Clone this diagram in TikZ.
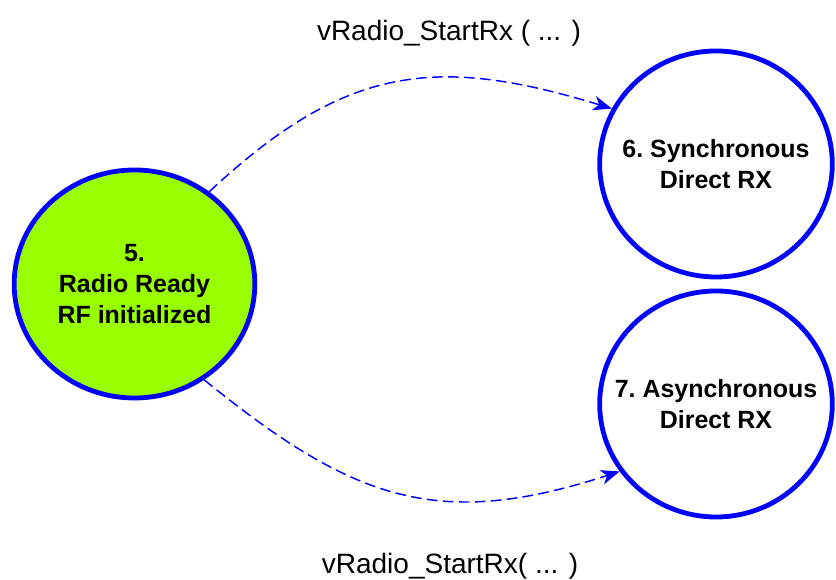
\documentclass[tikz,border=0pt]{standalone}
\usepackage{fontspec}
\setmainfont{Liberation Sans}
\usetikzlibrary{arrows.meta,shapes.geometric}
\definecolor{readygreen}{RGB}{153,255,0}
\definecolor{stateblue}{RGB}{0,0,255}

\begin{document}
\begin{tikzpicture}[x=0.75pt,y=0.75pt,>={Stealth[length=14pt,width=11pt,inset=4pt]},
    state/.style={ellipse,draw=stateblue,line width=3.6pt,align=center,inner sep=-30pt,
      font=\frenchspacing\bfseries\fontsize{18.7}{23}\selectfont},
    trans/.style={->,stateblue,line width=1.1pt,dash pattern=on 8pt off 4pt,looseness=1.15},
    call/.style={font=\fontsize{21}{25}\selectfont}]
    \useasboundingbox (0,0) rectangle (836,580);
    % states
    \node[state,fill=readygreen,minimum width=180.5pt,minimum height=171pt] (ready) at (134.5,296)
      {5.\\Radio Ready\\RF initialized};
    \node[state,fill=white,minimum width=174.5pt,minimum height=169.5pt] (sync) at (716,416)
      {6. Synchronous\\Direct RX};
    \node[state,fill=white,minimum width=174.5pt,minimum height=169.5pt] (async) at (716,176)
      {7. Asynchronous\\Direct RX};
    % transitions
    \draw[trans] (ready.51) to[out=43,in=163] (sync.152);
    \draw[trans] (ready.-54) to[out=-39,in=-162] (async.-145);
    \node[call] (startsync) at (449,547) {vRadio\_StartRx ( ... )};
    \node[call] (startasync) at (450,14) {vRadio\_StartRx( ... )};
\end{tikzpicture}
\end{document}
